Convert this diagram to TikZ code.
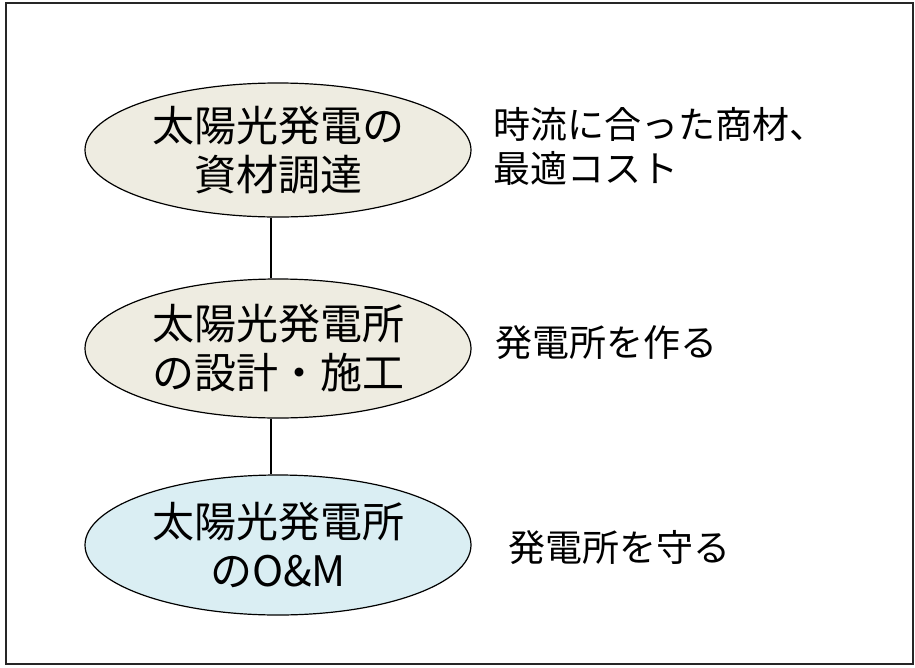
\documentclass[tikz,border=0pt]{standalone}
\usepackage{fontspec}
\newfontfamily\jp{Noto Sans CJK JP}
\usetikzlibrary{shapes.geometric}
\definecolor{beige}{HTML}{EEECE1}
\definecolor{lblue}{HTML}{DAEEF3}
\begin{document}
\begin{tikzpicture}[x=1pt,y=-1pt,
  oval/.style={ellipse,draw,line width=1.2pt,minimum width=386pt,inner sep=0pt,align=center,
    font=\jp\fontsize{42}{49}\selectfont},
  note/.style={anchor=west,align=left,inner sep=0pt,font=\jp\fontsize{37}{44}\selectfont},
  link/.style={line width=1.2pt}]
\useasboundingbox (0,0) rectangle (915,667);
\draw[line width=2pt,draw=black!85] (6,3) rectangle (913,664);
\node[oval,fill=beige,minimum height=134pt] (e1) at (278,150) {太陽光発電の\\資材調達};
\node[oval,fill=beige,minimum height=139pt] (e2) at (278,348.5) {太陽光発電所\\の設計・施工};
\node[oval,fill=lblue,minimum height=140pt] (e3) at (278,545) {太陽光発電所\\のO\&M};
\node[note] (n1) at (493,146) {時流に合った商材、\\最適コスト};
\node[note] (n2) at (495,343) {発電所を作る};
\node[note] (n3) at (508,548) {発電所を守る};
\draw[link] ([xshift=-7pt]e1.south) -- ([xshift=-7pt]e2.north);
\draw[link] ([xshift=-7pt]e2.south) -- ([xshift=-7pt]e3.north);
\end{tikzpicture}
\end{document}
